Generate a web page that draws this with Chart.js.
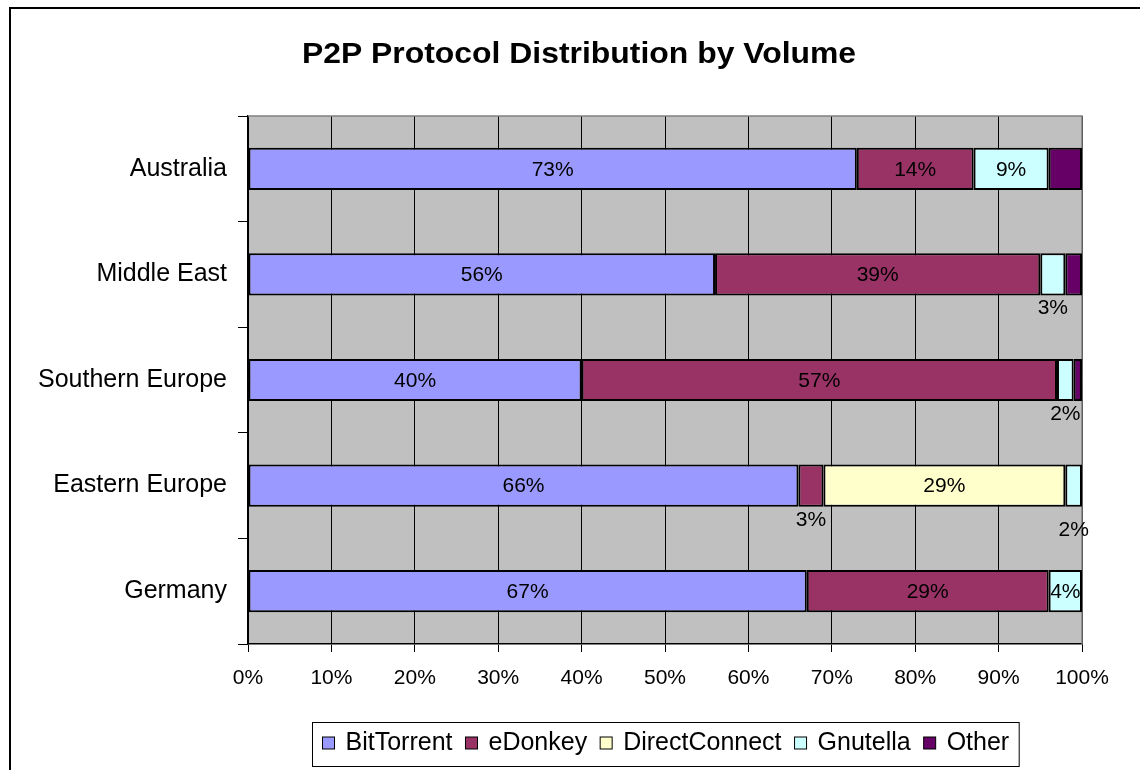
<!DOCTYPE html>
<html>
<head>
<meta charset="utf-8">
<script src="https://cdn.jsdelivr.net/npm/chart.js@4.4.1/dist/chart.umd.min.js"></script>
<style>
  html, body { margin: 0; padding: 0; background: #fff; }
</style>
</head>
<body>
<canvas id="p2p-chart" width="1140" height="770"></canvas>
<script>
//Regions, top to bottom as in the chart
var regions = ["Australia", "Middle East", "Southern Europe", "Eastern Europe", "Germany"];
//Share of P2P volume per protocol (percent), one value per region
var bitTorrent    = [73, 56, 40, 66, 67];
var eDonkey       = [14, 39, 57, 3, 29];
var directConnect = [0, 0, 0, 29, 0];
var gnutella      = [9, 3, 2, 2, 4];
var other         = [4, 2, 1, 0, 0];
//Tick values along the percent axis
var pctTicks = [0, 10, 20, 30, 40, 50, 60, 70, 80, 90, 100];

var chartTitle = "P2P Protocol Distribution by Volume";
var fontFamily = "'Liberation Sans', Arial, sans-serif";

Chart.defaults.font.family = fontFamily;
Chart.defaults.color = "#000";

//gray plot background plus frame around chart area
var plotBackground = {
  id: "plotBackground",
  beforeDraw: function(chart) {
    var c = chart.ctx, a = chart.chartArea;
    c.save();
    c.fillStyle = "#fff";
    c.fillRect(0, 0, chart.width, chart.height);
    c.fillStyle = "#C0C0C0";
    c.fillRect(a.left, a.top, a.right - a.left, a.bottom - a.top);
    c.restore();
  },
  beforeDatasetsDraw: function(chart) {
    var c = chart.ctx, a = chart.chartArea;
    c.save();
    c.strokeStyle = "#808080";
    c.lineWidth = 1.5;
    c.beginPath();
    c.moveTo(a.left, a.top);
    c.lineTo(a.right, a.top);
    c.lineTo(a.right, a.bottom);
    c.stroke();
    c.restore();
  }
};

//value labels: inside the segment when they fit, under the bar when not
var valueLabels = {
  id: "valueLabels",
  afterDatasetsDraw: function(chart) {
    var c = chart.ctx;
    var below = {};
    c.save();
    c.font = "21px " + fontFamily;
    c.fillStyle = "#000";
    c.textAlign = "center";
    c.textBaseline = "middle";
    chart.data.datasets.forEach(function(ds, di) {
      if (ds.showValues === false) return;
      chart.getDatasetMeta(di).data.forEach(function(bar, i) {
        var v = ds.data[i];
        if (!v) return;
        var txt = v + "%";
        var p = bar.getProps(["x", "y", "base", "height"], true);
        var left = Math.min(p.x, p.base), right = Math.max(p.x, p.base);
        var w = c.measureText(txt).width;
        if (w <= right - left) {
          c.fillText(txt, (left + right) / 2, p.y + 1);
        } else {
          var n = below[i] || 0;
          below[i] = n + 1;
          c.fillText(txt, (left + right) / 2, p.y + p.height / 2 + 13 + n * 10);
        }
      });
    });
    c.restore();
  }
};

//title, boxed legend and outer frame
var decorations = {
  id: "decorations",
  afterDraw: function(chart) {
    var c = chart.ctx, a = chart.chartArea;
    c.save();
    c.strokeStyle = "#000";
    c.lineWidth = 2;
    c.strokeRect(10, 8, 1300, 1000);

    // title is a bit wider than the plain font, stretch it horizontally
    c.save();
    c.fillStyle = "#000";
    c.font = "bold 29px " + fontFamily;
    c.textAlign = "center";
    c.textBaseline = "middle";
    c.translate(579, 55);
    c.scale(1.1, 1);
    c.fillText(chartTitle, 0, 0);
    c.restore();

    c.font = "25px " + fontFamily;
    c.textAlign = "left";
    c.textBaseline = "middle";
    var marker = 12, gap = 11, itemGap = 13, pad = 10;
    var items = chart.data.datasets;
    var total = 0;
    items.forEach(function(ds, i) {
      total += marker + gap + c.measureText(ds.label).width + (i ? itemGap : 0);
    });
    var boxW = total + pad * 2;
    var boxX = Math.round((a.left + a.right) / 2 - boxW / 2) + 0.5;
    var boxY = 722.5, boxH = 44, cy = 743;
    c.lineWidth = 1;
    c.fillStyle = "#fff";
    c.fillRect(boxX, boxY, boxW, boxH);
    c.strokeStyle = "#000";
    c.strokeRect(boxX, boxY, boxW, boxH);
    var x = boxX + pad;
    items.forEach(function(ds) {
      c.fillStyle = ds.backgroundColor;
      c.fillRect(x, cy - marker / 2, marker, marker);
      c.strokeStyle = "#000";
      c.strokeRect(x, cy - marker / 2, marker, marker);
      c.fillStyle = "#000";
      c.fillText(ds.label, x + marker + gap, cy);
      x += marker + gap + c.measureText(ds.label).width + itemGap;
    });
    c.restore();
  }
};

function series(label, data, color, showValues) {
  return {
    label: label,
    data: data,
    backgroundColor: color,
    borderColor: "#000",
    borderWidth: 2,
    borderSkipped: false,
    barPercentage: 0.4,
    categoryPercentage: 1,
    showValues: showValues
  };
}

var p2pChart = new Chart(document.getElementById("p2p-chart"), {
  type: "bar",
  data: {
    labels: regions,
    datasets: [
      series("BitTorrent", bitTorrent, "#9999FF", true),
      series("eDonkey", eDonkey, "#993366", true),
      series("DirectConnect", directConnect, "#FFFFCC", true),
      series("Gnutella", gnutella, "#CCFFFF", true),
      series("Other", other, "#660066", false)
    ]
  },
  options: {
    indexAxis: "y",
    responsive: false,
    animation: false,
    layout: { padding: { top: 116, right: 58, bottom: 0, left: 0 } },
    plugins: {
      legend: { display: false },
      title: { display: false },
      tooltip: { enabled: false }
    },
    scales: {
      x: {
        stacked: true,
        min: 0,
        max: 100,
        afterBuildTicks: function(scale) {
          scale.ticks = pctTicks.map(function(v) { return { value: v }; });
        },
        afterFit: function(scale) { scale.height = 126; },
        grid: { color: "#000", lineWidth: 1, tickLength: 8, tickColor: "#000" },
        border: { color: "#000", width: 1.5 },
        ticks: {
          font: { size: 21 },
          padding: 14,
          maxRotation: 0,
          autoSkip: false,
          callback: function(v) { return v + "%"; }
        }
      },
      y: {
        stacked: true,
        afterFit: function(scale) { scale.width = 248; },
        grid: { offset: true, drawOnChartArea: false, tickLength: 10, color: "#000" },
        border: { color: "#000", width: 1.5 },
        ticks: { font: { size: 25 }, padding: 11 }
      }
    }
  },
  plugins: [plotBackground, valueLabels, decorations]
});
</script>
</body>
</html>
